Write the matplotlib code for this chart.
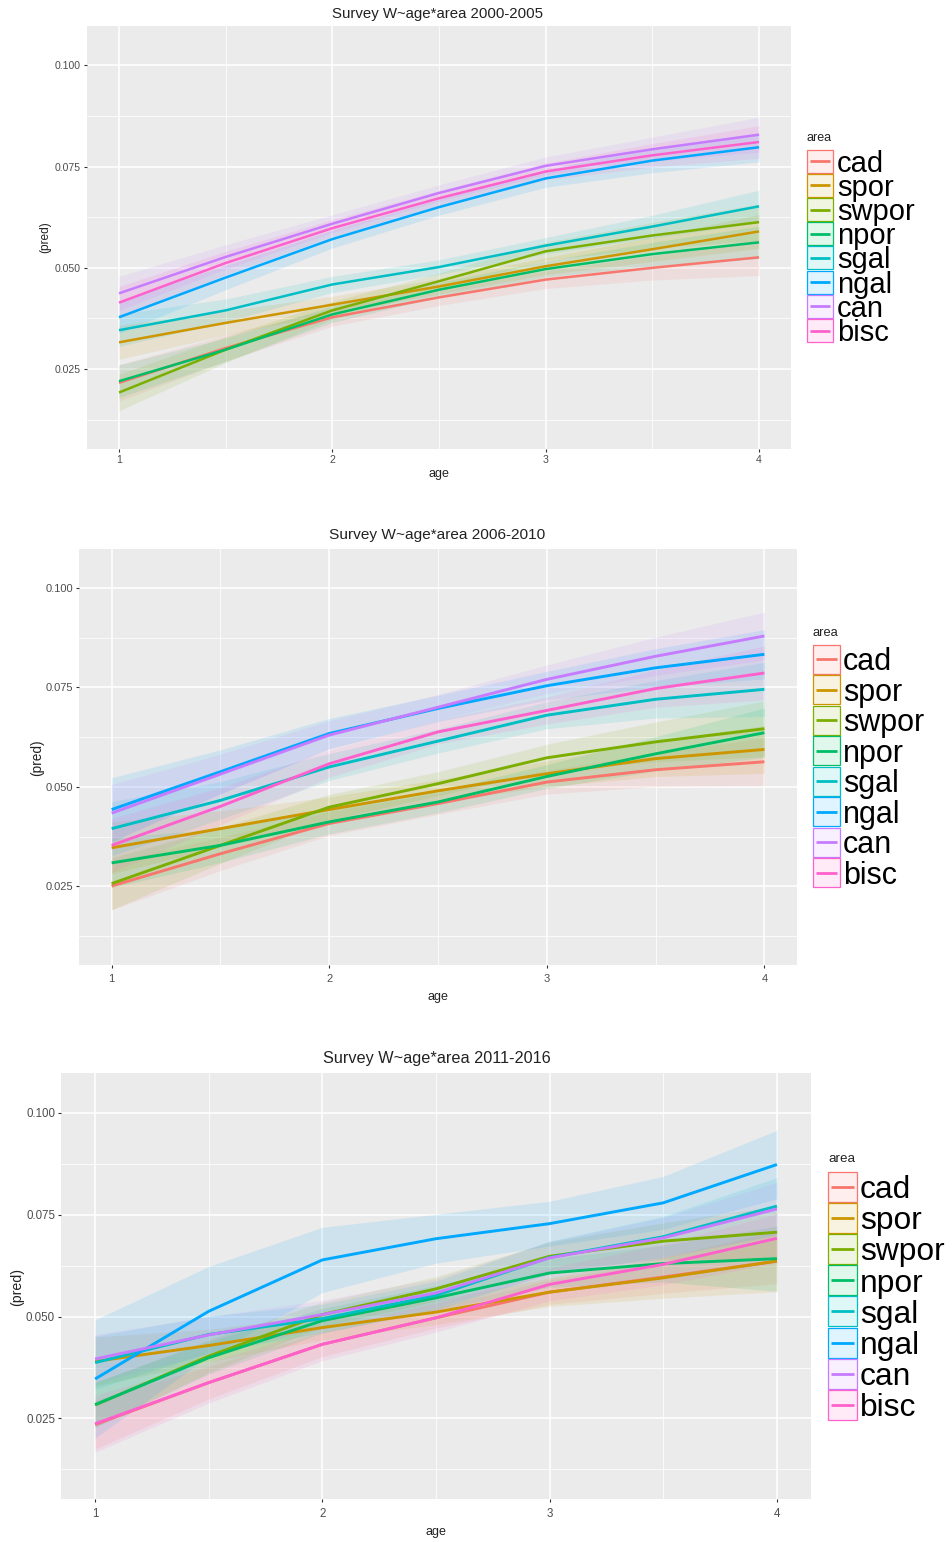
import matplotlib
matplotlib.use("Agg")
import matplotlib.pyplot as plt
from matplotlib.patches import Rectangle
from matplotlib.colors import to_rgba

plt.rcParams["font.family"] = ["Liberation Sans", "DejaVu Sans"]

W, H = 953, 1542  # figure size in pixels (dpi 100)

ages = [1, 1.5, 2, 2.5, 3, 3.5, 4]
areas = ["cad", "spor", "swpor", "npor", "sgal", "ngal", "can", "bisc"]
area_colors = ["#F8766D", "#CD9600", "#7CAE00", "#00BE67",
               "#00BFC4", "#00A9FF", "#C77CFF", "#FF61CC"]
titles = ["Survey W~age*area 2000-2005",
          "Survey W~age*area 2006-2010",
          "Survey W~age*area 2011-2016"]

# smoothed predictions, one row per area (same order as `areas`)
fit_2000_2005 = [
    [0.0216, 0.0302, 0.0378, 0.0427, 0.0471, 0.0500, 0.0526],
    [0.0316, 0.0364, 0.0409, 0.0454, 0.0504, 0.0546, 0.0590],
    [0.0192, 0.0298, 0.0395, 0.0467, 0.0541, 0.0580, 0.0613],
    [0.0220, 0.0298, 0.0385, 0.0446, 0.0497, 0.0534, 0.0563],
    [0.0346, 0.0395, 0.0459, 0.0502, 0.0555, 0.0602, 0.0652],
    [0.0378, 0.0476, 0.0571, 0.0650, 0.0721, 0.0765, 0.0798],
    [0.0437, 0.0527, 0.0609, 0.0685, 0.0752, 0.0793, 0.0829],
    [0.0414, 0.0512, 0.0598, 0.0672, 0.0738, 0.0778, 0.0811],
]
band_2000_2005 = [
    [0.0045, 0.0032, 0.0022, 0.0020, 0.0022, 0.0030, 0.0045],
    [0.0042, 0.0030, 0.0021, 0.0019, 0.0021, 0.0030, 0.0042],
    [0.0045, 0.0032, 0.0022, 0.0020, 0.0022, 0.0032, 0.0045],
    [0.0040, 0.0029, 0.0020, 0.0018, 0.0020, 0.0029, 0.0040],
    [0.0040, 0.0028, 0.0020, 0.0018, 0.0020, 0.0028, 0.0040],
    [0.0040, 0.0030, 0.0022, 0.0020, 0.0022, 0.0030, 0.0036],
    [0.0042, 0.0030, 0.0022, 0.0020, 0.0022, 0.0030, 0.0043],
    [0.0040, 0.0029, 0.0021, 0.0019, 0.0021, 0.0029, 0.0040],
]

fit_2006_2010 = [
    [0.0251, 0.0332, 0.0408, 0.0458, 0.0512, 0.0543, 0.0563],
    [0.0347, 0.0395, 0.0443, 0.0490, 0.0533, 0.0571, 0.0594],
    [0.0257, 0.0353, 0.0449, 0.0508, 0.0573, 0.0613, 0.0646],
    [0.0309, 0.0353, 0.0412, 0.0462, 0.0526, 0.0583, 0.0636],
    [0.0395, 0.0466, 0.0550, 0.0615, 0.0680, 0.0720, 0.0745],
    [0.0443, 0.0538, 0.0634, 0.0697, 0.0754, 0.0799, 0.0833],
    [0.0434, 0.0532, 0.0630, 0.0700, 0.0770, 0.0828, 0.0879],
    [0.0353, 0.0451, 0.0558, 0.0638, 0.0692, 0.0747, 0.0786],
]
band_2006_2010 = [
    [0.0060, 0.0042, 0.0030, 0.0027, 0.0030, 0.0042, 0.0060],
    [0.0065, 0.0045, 0.0032, 0.0028, 0.0032, 0.0045, 0.0060],
    [0.0065, 0.0045, 0.0032, 0.0030, 0.0034, 0.0050, 0.0070],
    [0.0062, 0.0043, 0.0030, 0.0027, 0.0030, 0.0043, 0.0062],
    [0.0068, 0.0047, 0.0034, 0.0030, 0.0034, 0.0047, 0.0068],
    [0.0080, 0.0055, 0.0038, 0.0033, 0.0036, 0.0048, 0.0062],
    [0.0072, 0.0050, 0.0036, 0.0032, 0.0036, 0.0048, 0.0060],
    [0.0068, 0.0047, 0.0034, 0.0030, 0.0034, 0.0047, 0.0068],
]

fit_2011_2016 = [
    [0.0235, 0.0338, 0.0432, 0.0497, 0.0560, 0.0597, 0.0636],
    [0.0390, 0.0429, 0.0473, 0.0511, 0.0560, 0.0595, 0.0636],
    [0.0283, 0.0403, 0.0505, 0.0568, 0.0648, 0.0685, 0.0707],
    [0.0284, 0.0399, 0.0490, 0.0546, 0.0607, 0.0630, 0.0642],
    [0.0387, 0.0456, 0.0495, 0.0552, 0.0645, 0.0696, 0.0771],
    [0.0347, 0.0513, 0.0639, 0.0691, 0.0728, 0.0779, 0.0873],
    [0.0396, 0.0455, 0.0505, 0.0558, 0.0644, 0.0693, 0.0764],
    [0.0237, 0.0338, 0.0432, 0.0497, 0.0579, 0.0628, 0.0692],
]
band_2011_2016 = [
    [0.0060, 0.0040, 0.0030, 0.0025, 0.0030, 0.0040, 0.0055],
    [0.0060, 0.0040, 0.0030, 0.0030, 0.0035, 0.0050, 0.0075],
    [0.0055, 0.0040, 0.0030, 0.0030, 0.0035, 0.0045, 0.0065],
    [0.0055, 0.0040, 0.0030, 0.0030, 0.0035, 0.0045, 0.0080],
    [0.0065, 0.0045, 0.0035, 0.0035, 0.0040, 0.0050, 0.0070],
    [0.0145, 0.0110, 0.0080, 0.0060, 0.0055, 0.0065, 0.0084],
    [0.0060, 0.0045, 0.0035, 0.0035, 0.0040, 0.0050, 0.0065],
    [0.0070, 0.0050, 0.0040, 0.0035, 0.0040, 0.0050, 0.0060],
]

fits = [fit_2000_2005, fit_2006_2010, fit_2011_2016]
bands = [band_2000_2005, band_2006_2010, band_2011_2016]

# panel boxes in pixels: left, top, right, bottom
panel_boxes = [(87, 26, 791, 449), (79, 549, 797, 965), (61, 1073, 811, 1499)]
title_pos = [(438, 14, 10.8), (437, 535, 11.1), (437, 1059, 11.7)]
xlabel_pos = [(439, 474), (438, 997), (436, 1532)]
ylabel_pos = [(45, 237, 8.6), (37, 758, 9.8), (17, 1287, 10.2)]
tick_size = [7.6, 8.0, 8.3]
xtick_pad = [1.8, 4.0, 4.0]
line_width = [1.8, 2.1, 2.1]
# legend: key left, key right, first key top, key height, label x,
# label size, title y, title size
legend_pos = [
    (807, 833, 149, 24.2, 837, 21.0, 138, 9.0),
    (813, 840, 644, 30.5, 843, 22.0, 633, 9.3),
    (828, 857, 1171, 31.2, 860, 22.9, 1159, 9.6),
]


def px_box(left, top, right, bottom):
    return [left / W, 1 - bottom / H, (right - left) / W, (bottom - top) / H]


def style_axes(ax, k):
    ax.set_facecolor("#EBEBEB")
    for s in ax.spines.values():
        s.set_visible(False)
    ax.set_xlim(0.85, 4.15)
    ax.set_ylim(0.00525, 0.10975)
    ax.set_xticks([1, 2, 3, 4])
    ax.set_xticks([1.5, 2.5, 3.5], minor=True)
    ax.set_yticks([0.025, 0.050, 0.075, 0.100])
    ax.set_yticklabels(["0.025", "0.050", "0.075", "0.100"])
    ax.set_yticks([0.0125, 0.0375, 0.0625, 0.0875], minor=True)
    ax.grid(which="major", color="white", linewidth=1.1)
    ax.grid(which="minor", color="white", linewidth=0.55)
    ax.set_axisbelow(True)
    ax.tick_params(which="major", length=2.5, width=0.8, color="#333333",
                   labelcolor="#4D4D4D", labelsize=tick_size[k], pad=1.8)
    ax.tick_params(axis="x", which="major", pad=xtick_pad[k])
    ax.tick_params(which="minor", length=0)


def draw_panel(ax, k):
    style_axes(ax, k)
    for row, width, color in zip(fits[k], bands[k], area_colors):
        lo = [f - b for f, b in zip(row, width)]
        hi = [f + b for f, b in zip(row, width)]
        ax.fill_between(ages, lo, hi, color=color, alpha=0.12, linewidth=0)
        ax.plot(ages, row, color=color, linewidth=line_width[k],
                solid_capstyle="butt", solid_joinstyle="round")


def draw_legend(over, k):
    x0, x1, top, kh, lx, fs, ty, tfs = legend_pos[k]
    over.text(x0, ty, "area", fontsize=tfs, color="#222222",
              ha="left", va="center")
    em = fs * 100 / 72
    for i, (name, color) in enumerate(zip(areas, area_colors)):
        y0 = top + i * kh
        over.add_patch(Rectangle((x0, y0 + 0.6), x1 - x0, kh - 1.2,
                                 facecolor=to_rgba(color, 0.12),
                                 edgecolor=color, linewidth=0.9))
        yc = y0 + kh / 2
        over.plot([x0 + 3, x1 - 3], [yc, yc], color=color, linewidth=2.0,
                  solid_capstyle="butt")
        over.text(lx, yc + 0.36 * em, name, fontsize=fs, color="black",
                  ha="left", va="baseline")


fig = plt.figure(figsize=(W / 100, H / 100), dpi=100)
fig.patch.set_facecolor("white")

for k in range(3):
    ax = fig.add_axes(px_box(*panel_boxes[k]))
    draw_panel(ax, k)

over = fig.add_axes([0, 0, 1, 1])
over.set_xlim(0, W)
over.set_ylim(H, 0)
over.axis("off")

for k in range(3):
    tx, ty, tfs = title_pos[k]
    over.text(tx, ty, titles[k], fontsize=tfs, color="#222222",
              ha="center", va="center")
    ax_x, ax_y = xlabel_pos[k]
    over.text(ax_x, ax_y, "age", fontsize=9, color="#222222",
              ha="center", va="center")
    lx, ly, lfs = ylabel_pos[k]
    over.text(lx, ly, "(pred)", fontsize=lfs, color="#222222",
              ha="center", va="center", rotation=90)
    draw_legend(over, k)

fig.savefig("out.png", dpi=100)
